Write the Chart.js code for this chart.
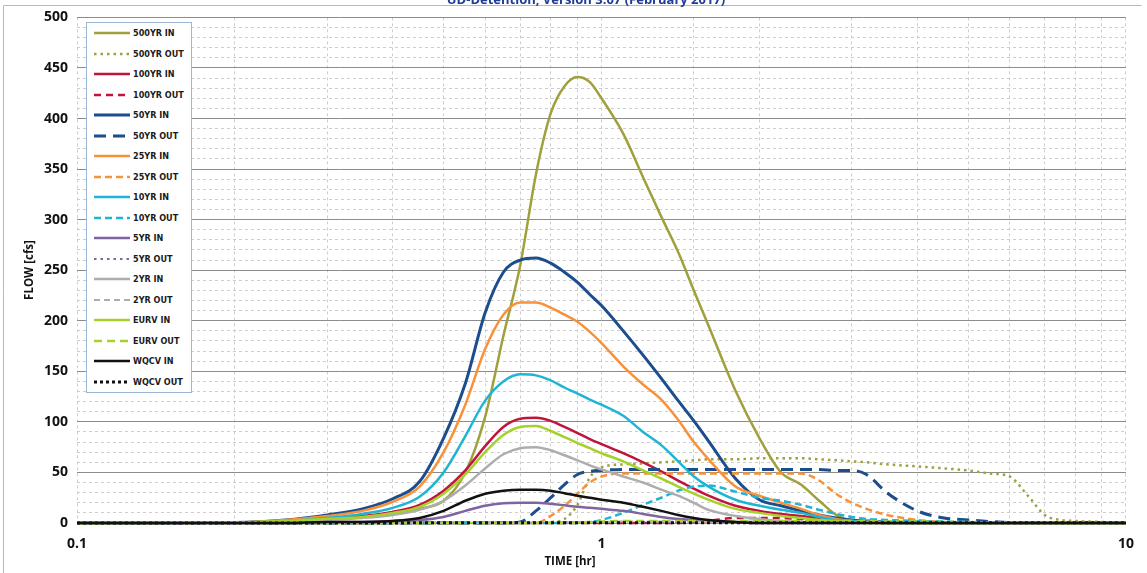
<!DOCTYPE html>
<html>
<head>
<meta charset="utf-8">
<title>UD-Detention inflow / outflow hydrographs</title>
<script src="https://cdn.jsdelivr.net/npm/chart.js@4.4.1/dist/chart.umd.min.js"></script>
<style>
  html, body { margin: 0; padding: 0; background: #fff; }
  #wrap { position: relative; width: 1147px; height: 573px; }
  #chart { display: block; }
  #legend {
    position: absolute; left: 86px; top: 22px; width: 106px;
    box-sizing: border-box; border: 1px solid #9bb7d4; background: #fff;
    font: bold 9px 'Liberation Sans Narrow', 'DejaVu Sans Condensed', sans-serif;
    color: #1a1a1a;
  }
  #legend .row { height: 20.5px; display: flex; align-items: center; }
  #legend svg { margin-left: 7px; margin-right: 3px; flex: none; }
</style>
</head>
<body>
<div id="wrap">
  <canvas id="chart" width="1147" height="573"></canvas>
  <div id="legend"></div>
</div>
<script>
(function () {
  'use strict';

  // ---------------------------------------------------------------------------
  // Data: hydrograph ordinates (cfs) at each time step (hr)
  // ---------------------------------------------------------------------------

  var TIME_HR = [
    0.1, 0.2, 0.25, 0.3, 0.35, 0.4, 0.45, 0.5, 0.55, 0.6,
    0.65, 0.7, 0.75, 0.8, 0.85, 0.9, 0.95, 1.0, 1.1, 1.2,
    1.3, 1.4, 1.5, 1.6, 1.8, 2.0, 2.2, 2.4, 2.6, 2.8,
    3.0, 3.2, 3.5, 4.0, 4.5, 5.0, 5.5, 6.0, 6.5, 7.0,
    7.5, 8.0, 9.0, 10
  ];

  var IN_500YR = [
    0, 0.5, 2, 4, 6, 9, 14, 22, 50, 105,
    185, 255, 345, 405, 432, 441, 436, 420, 385, 342,
    303, 268, 230, 195, 131, 84, 50, 38, 22, 8,
    2, 1, 0, 0, 0, 0, 0, 0, 0, 0,
    0, 0, 0, 0
  ];
  var OUT_500YR = [
    0, 0, 0, 0, 0, 0, 0, 0, 0, 0,
    0, 0, 0.5, 1, 4, 18, 45, 55, 58, 59,
    60, 61, 62, 63, 63, 64, 64, 64, 63, 62,
    61, 60, 58, 56, 54, 52, 49, 46, 27, 8,
    3, 2, 1, 0
  ];
  var IN_100YR = [
    0, 0.5, 2, 4, 7, 11, 18, 32, 52, 76,
    95, 103, 104, 101, 95, 89, 83, 78, 69, 60,
    51, 42, 34, 27, 17, 12, 9, 7, 5, 3,
    2, 1, 0, 0, 0, 0, 0, 0, 0, 0,
    0, 0, 0, 0
  ];
  var OUT_100YR = [
    0, 0, 0, 0, 0, 0, 0, 0, 0, 0,
    0, 0, 0, 0, 0, 0, 0, 0, 0, 0,
    0, 0, 1, 2, 5, 5, 5, 4, 4, 3,
    3, 2, 2, 1, 0.5, 0, 0, 0, 0, 0,
    0, 0, 0, 0
  ];
  var IN_50YR = [
    0, 0.5, 3, 8, 14, 24, 41, 84, 138, 208,
    248, 260, 262, 257, 248, 238, 226, 215, 190, 166,
    143, 121, 101, 81, 44, 23, 17, 12, 8, 5,
    3, 2, 1, 0, 0, 0, 0, 0, 0, 0,
    0, 0, 0, 0
  ];
  var OUT_50YR = [
    0, 0, 0, 0, 0, 0, 0, 0, 0, 0,
    0, 1, 12, 25, 38, 48, 51, 52, 53, 53,
    53, 53, 53, 53, 53, 53, 53, 53, 53, 52,
    52, 48, 30, 12, 5, 3, 1.5, 0.5, 0, 0,
    0, 0, 0, 0
  ];
  var IN_25YR = [
    0, 0.5, 3, 7, 12, 21, 36, 70, 117, 172,
    206, 218, 218, 213, 206, 199, 189, 178, 155, 137,
    122, 102, 80, 63, 36, 27, 20, 14, 8, 4,
    2, 1, 1, 0, 0, 0, 0, 0, 0, 0,
    0, 0, 0, 0
  ];
  var OUT_25YR = [
    0, 0, 0, 0, 0, 0, 0, 0, 0, 0,
    0, 0, 0, 7, 17, 29, 40, 46, 49, 49,
    49, 49, 49, 49, 49, 49, 49, 49, 42, 29,
    20, 14, 8, 3, 1, 0, 0, 0, 0, 0,
    0, 0, 0, 0
  ];
  var IN_10YR = [
    0, 0.5, 2, 5, 9, 15, 26, 50, 86, 121,
    140, 147, 146, 141, 134, 128, 122, 117, 106, 90,
    77, 61, 46, 36, 23, 17, 13, 10, 6, 3,
    2, 1, 0, 0, 0, 0, 0, 0, 0, 0,
    0, 0, 0, 0
  ];
  var OUT_10YR = [
    0, 0, 0, 0, 0, 0, 0, 0, 0, 0,
    0, 0, 0, 0, 0, 0, 1, 3, 10, 18,
    25, 32, 36, 37, 31, 25, 22, 18, 13, 9,
    6, 4, 3, 2, 1.5, 1, 0.5, 0.5, 0, 0,
    0, 0, 0, 0
  ];
  var IN_5YR = [
    0, 0, 0, 1, 1, 2, 3, 6, 12, 17,
    19.5, 20, 20, 19, 17.5, 16, 15, 14, 12, 9,
    6, 4, 3, 2, 1, 0, 0, 0, 0, 0,
    0, 0, 0, 0, 0, 0, 0, 0, 0, 0,
    0, 0, 0, 0
  ];
  var OUT_5YR = [
    0, 0, 0, 0, 0, 0, 0, 0, 0, 0,
    0, 0, 0, 0.5, 1, 1, 1, 1, 1, 1,
    1, 1, 1, 1, 1, 1, 1, 1, 1, 1,
    1, 1, 1, 1, 0.5, 0.5, 0.5, 0.5, 0, 0,
    0, 0, 0, 0
  ];
  var IN_2YR = [
    0, 0.5, 1, 3, 5, 8, 13, 22, 37, 54,
    68, 74, 75, 72, 67, 62, 57, 53, 46, 40,
    33, 27, 20, 13, 7, 4, 2, 1, 0, 0,
    0, 0, 0, 0, 0, 0, 0, 0, 0, 0,
    0, 0, 0, 0
  ];
  var OUT_2YR = [
    0, 0, 0, 0, 0, 0, 0, 0, 0, 0,
    0, 0, 0, 0, 0.5, 1, 1, 1, 1.5, 1.5,
    1.5, 1.5, 1.5, 1.5, 1.5, 1.5, 1.5, 1.5, 1.5, 1.5,
    1.5, 1.5, 1, 1, 1, 0.5, 0.5, 0.5, 0, 0,
    0, 0, 0, 0
  ];
  var IN_EURV = [
    0, 0.5, 2, 4, 6, 10, 16, 29, 48, 70,
    87, 95, 96, 91, 85, 79, 74, 69, 61, 52,
    44, 36, 29, 23, 14, 10, 7, 5, 3, 2,
    1, 0, 0, 0, 0, 0, 0, 0, 0, 0,
    0, 0, 0, 0
  ];
  var OUT_EURV = [
    0, 0, 0, 0, 0, 0, 0, 0, 0, 0,
    0, 0, 0, 0, 0, 0.5, 1, 1.5, 2, 2,
    2, 2, 2, 2, 2, 2, 2, 2, 2, 2,
    2, 2, 1.5, 1.5, 1, 1, 0.5, 0.5, 0, 0,
    0, 0, 0, 0
  ];
  var IN_WQCV = [
    0, 0, 0, 1, 1, 2, 5, 12, 22, 29,
    32, 33, 33, 32, 29.5, 27, 25, 23, 20, 16,
    12, 8, 5, 3, 1, 0, 0, 0, 0, 0,
    0, 0, 0, 0, 0, 0, 0, 0, 0, 0,
    0, 0, 0, 0
  ];
  var OUT_WQCV = [
    0, 0, 0, 0, 0, 0, 0.3, 0.3, 0.3, 0.3,
    0.3, 0.3, 0.3, 0.3, 0.3, 0.3, 0.3, 0.3, 0.3, 0.3,
    0.3, 0.3, 0.3, 0.3, 0.3, 0.3, 0.3, 0.3, 0.3, 0.3,
    0.3, 0.3, 0.3, 0.3, 0.3, 0.3, 0.3, 0.3, 0.3, 0.3,
    0.3, 0.3, 0.3, 0.3
  ];

  var SERIES_NAMES = [
    '500YR IN', '500YR OUT', '100YR IN', '100YR OUT', '50YR IN', '50YR OUT',
    '25YR IN', '25YR OUT', '10YR IN', '10YR OUT', '5YR IN', '5YR OUT',
    '2YR IN', '2YR OUT', 'EURV IN', 'EURV OUT', 'WQCV IN', 'WQCV OUT'
  ];
  var SERIES_VALUES = [
    IN_500YR, OUT_500YR, IN_100YR, OUT_100YR, IN_50YR, OUT_50YR,
    IN_25YR, OUT_25YR, IN_10YR, OUT_10YR, IN_5YR, OUT_5YR,
    IN_2YR, OUT_2YR, IN_EURV, OUT_EURV, IN_WQCV, OUT_WQCV
  ];

  var X_TICK_LABELS = [0.1, 1, 10];
  var Y_TICK_LABELS = [0, 50, 100, 150, 200, 250, 300, 350, 400, 450, 500];

  var TITLE   = 'UD-Detention, Version 3.07 (February 2017)';
  var X_TITLE = 'TIME [hr]';
  var Y_TITLE = 'FLOW [cfs]';

  // ---------------------------------------------------------------------------
  // Line styles
  // ---------------------------------------------------------------------------

  var DOT = [2.5, 4];
  var STYLE = {
    '500YR IN':  { colour: '#a0a03c', width: 2.5, dash: [] },
    '500YR OUT': { colour: '#a0a03c', width: 2.5, dash: DOT },
    '100YR IN':  { colour: '#c0143c', width: 2.5, dash: [] },
    '100YR OUT': { colour: '#c0143c', width: 2.5, dash: [7, 5] },
    '50YR IN':   { colour: '#1c4d8c', width: 3,   dash: [] },
    '50YR OUT':  { colour: '#1c4d8c', width: 3,   dash: [12, 7] },
    '25YR IN':   { colour: '#f7923a', width: 2.5, dash: [] },
    '25YR OUT':  { colour: '#f7923a', width: 2.5, dash: [7, 4] },
    '10YR IN':   { colour: '#20b4d4', width: 2.5, dash: [] },
    '10YR OUT':  { colour: '#20b4d4', width: 2.5, dash: [7, 4] },
    '5YR IN':    { colour: '#8064a2', width: 2.5, dash: [] },
    '5YR OUT':   { colour: '#8064a2', width: 2,   dash: DOT },
    '2YR IN':    { colour: '#adadad', width: 2.5, dash: [] },
    '2YR OUT':   { colour: '#adadad', width: 2,   dash: [6, 4] },
    'EURV IN':   { colour: '#a6d12a', width: 2.5, dash: [] },
    'EURV OUT':  { colour: '#a6d12a', width: 2.5, dash: [8, 5] },
    'WQCV IN':   { colour: '#111111', width: 2.5, dash: [] },
    'WQCV OUT':  { colour: '#111111', width: 3,   dash: [3, 3] }
  };

  var FONT = "'Open Sans', 'Liberation Sans', sans-serif";
  var GRID_MAJOR = '#8c8c8c';
  var GRID_MINOR = '#cdcdcd';

  // ---------------------------------------------------------------------------
  // Datasets
  // ---------------------------------------------------------------------------

  function buildDatasets() {
    var n = SERIES_NAMES.length;
    return SERIES_NAMES.map(function (name, i) {
      var s = STYLE[name];
      return {
        label: name,
        data: TIME_HR.map(function (t, k) { return { x: t, y: SERIES_VALUES[i][k] }; }),
        borderColor: s.colour,
        backgroundColor: s.colour,
        borderWidth: s.width,
        borderDash: s.dash,
        pointRadius: 0,
        pointHoverRadius: 0,
        fill: false,
        cubicInterpolationMode: 'monotone',
        clip: 6,
        order: n - i    // later series are painted over earlier ones
      };
    });
  }

  function sameValue(a, b) {
    return Math.abs(a - b) < 1e-9 * Math.max(1, Math.abs(b));
  }

  // ---------------------------------------------------------------------------
  // Frame, clipped heading and axis captions
  // ---------------------------------------------------------------------------

  var decorations = {
    id: 'decorations',
    beforeDraw: function (chart) {
      var ctx = chart.ctx;
      ctx.save();
      ctx.fillStyle = '#ffffff';
      ctx.fillRect(0, 0, chart.width, chart.height);
      ctx.restore();
    },
    afterDraw: function (chart) {
      var ctx = chart.ctx;
      ctx.save();

      ctx.strokeStyle = '#b8b8b8';
      ctx.lineWidth = 1;
      ctx.beginPath();
      ctx.moveTo(3.5, chart.height);
      ctx.lineTo(3.5, 5.5);
      ctx.lineTo(1141.5, 5.5);
      ctx.stroke();

      ctx.fillStyle = '#1f3c99';
      ctx.font = 'bold 13px ' + FONT;
      ctx.textAlign = 'center';
      ctx.textBaseline = 'alphabetic';
      ctx.fillText(TITLE, 586, 4);

      ctx.fillStyle = '#111';
      ctx.font = 'bold 11.5px ' + FONT;
      ctx.textBaseline = 'middle';
      ctx.fillText(X_TITLE, 570, 562);

      ctx.translate(30, 270);
      ctx.rotate(-Math.PI / 2);
      ctx.fillText(Y_TITLE, 0, 0);

      ctx.restore();
    }
  };

  // ---------------------------------------------------------------------------
  // Legend (overlaid inside the plot area)
  // ---------------------------------------------------------------------------

  function buildLegend(el, datasets) {
    var svgNS = 'http://www.w3.org/2000/svg';
    datasets.forEach(function (ds) {
      var row = document.createElement('div');
      row.className = 'row';

      var svg = document.createElementNS(svgNS, 'svg');
      svg.setAttribute('width', '36');
      svg.setAttribute('height', '6');
      var ln = document.createElementNS(svgNS, 'line');
      ln.setAttribute('x1', '0');
      ln.setAttribute('y1', '3');
      ln.setAttribute('x2', '36');
      ln.setAttribute('y2', '3');
      ln.setAttribute('stroke', ds.borderColor);
      ln.setAttribute('stroke-width', String(ds.borderWidth));
      if (ds.borderDash.length) ln.setAttribute('stroke-dasharray', ds.borderDash.join(' '));
      svg.appendChild(ln);

      var label = document.createElement('span');
      label.textContent = ds.label;

      row.appendChild(svg);
      row.appendChild(label);
      el.appendChild(row);
    });
  }

  // ---------------------------------------------------------------------------
  // Chart
  // ---------------------------------------------------------------------------

  function init() {
    var datasets = buildDatasets();
    var tickFont = { family: FONT, size: 14, weight: 'bold' };

    new Chart(document.getElementById('chart'), {
      type: 'line',
      data: { datasets: datasets },
      plugins: [decorations],
      options: {
        responsive: false,
        animation: false,
        events: [],
        layout: { padding: { left: 0, top: 17, right: 17, bottom: 0 } },
        plugins: {
          legend: { display: false },
          tooltip: { enabled: false },
          title: { display: false }
        },
        scales: {
          x: {
            type: 'logarithmic',
            min: 0.1,
            max: 10,
            afterFit: function (s) { s.height = 50; },
            grid: { color: GRID_MINOR, lineWidth: 1, drawTicks: false },
            border: { display: false, dash: [3, 3] },
            ticks: {
              autoSkip: false,
              maxRotation: 0,
              padding: 13,
              color: '#111',
              font: tickFont,
              callback: function (v) {
                for (var i = 0; i < X_TICK_LABELS.length; i++) {
                  if (sameValue(v, X_TICK_LABELS[i])) return String(X_TICK_LABELS[i]);
                }
                return '';
              }
            }
          },
          y: {
            type: 'linear',
            position: 'left',
            min: 0,
            max: 500,
            afterFit: function (s) { s.width = 77; },
            grid: { color: GRID_MAJOR, lineWidth: 1, drawTicks: false },
            border: { display: false },
            ticks: {
              stepSize: 50,
              padding: 9,
              color: '#111',
              font: tickFont,
              callback: function (v) {
                return Y_TICK_LABELS.indexOf(v) >= 0 ? String(v) : '';
              }
            }
          },
          yMinor: {
            type: 'linear',
            position: 'left',
            min: 0,
            max: 500,
            afterFit: function (s) { s.width = 0; },
            grid: {
              drawTicks: false,
              lineWidth: 1,
              color: function (c) {
                return (c.tick && c.tick.value % 50 === 0) ? 'rgba(0,0,0,0)' : GRID_MINOR;
              }
            },
            border: { display: false, dash: [3, 3] },
            ticks: { stepSize: 10, display: false }
          }
        }
      }
    });

    buildLegend(document.getElementById('legend'), datasets);
  }

  if (document.readyState === 'loading') {
    document.addEventListener('DOMContentLoaded', init);
  } else {
    init();
  }
})();
</script>
</body>
</html>
